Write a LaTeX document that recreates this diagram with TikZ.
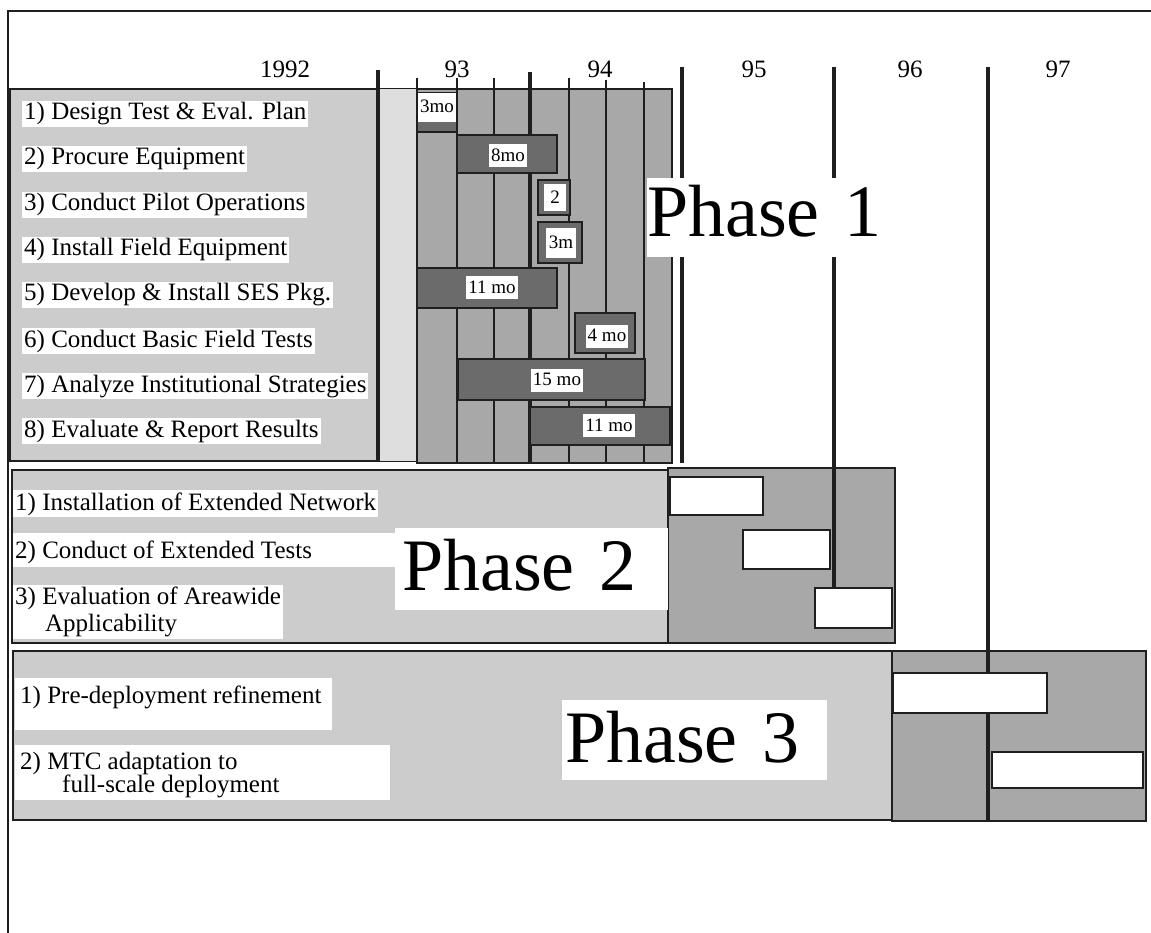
\documentclass[tikz,border=0pt]{standalone}
\usepackage{fontspec}
\setmainfont{Liberation Serif}
\usepackage{tikz}
\definecolor{paneltone}{gray}{0.80}
\definecolor{striptone}{gray}{0.87}
\definecolor{charttone}{gray}{0.66}
\definecolor{bartone}{gray}{0.42}
\definecolor{linetone}{gray}{0.12}
\tikzset{
    frame/.style={draw=linetone,line width=2pt},
    panel/.style={draw=linetone,line width=1.6pt,fill=paneltone},
    chart/.style={draw=linetone,line width=2pt,fill=charttone},
    yearline/.style={draw=linetone,line width=4pt},
    quarterline/.style={draw=linetone,line width=2.6pt},
    bar/.style={draw=linetone,line width=1.6pt,fill=bartone},
    slot/.style={draw=linetone,line width=2.4pt,fill=white},
    item/.style={fill=white,anchor=base west,inner sep=2pt,font=\fontsize{25}{27}\selectfont},
    year/.style={anchor=base,inner sep=0pt,font=\fontsize{25}{27}\selectfont},
    barlabel/.style={fill=white,inner xsep=2pt,inner ysep=4pt,text height=13pt,text depth=2pt,font=\fontsize{19}{21}\selectfont},
    phase/.style={fill=white,anchor=base west,align=left,inner ysep=0pt,font=\fontsize{74}{80}\selectfont}
}
\begin{document}
\begin{tikzpicture}[x=1pt,y=-1pt]
    \useasboundingbox (0,0) rectangle (1151,933);
    \draw[frame] (8,933) -- (8,11) -- (1151,11);
    \draw[panel] (10,89) rectangle (672,461);
    \fill[striptone] (378,89) rectangle (417,461);
    \draw[chart] (417,89) rectangle (672,463);
    \draw[panel] (12,470) rectangle (668,643);
    \draw[chart] (668,468) rectangle (895,643);
    \draw[panel] (13,651) rectangle (892,820);
    \draw[chart] (892,651) rectangle (1146,821);
    \draw[yearline] (378,70) -- (378,461);
    \draw[yearline] (530,72) -- (530,463);
    \draw[yearline] (682,67) -- (682,463);
    \draw[yearline] (834,67) -- (834,588);
    \draw[yearline] (988,67) -- (988,820);
    \draw[quarterline] (417,78) -- (417,463);
    \draw[quarterline] (457,78) -- (457,463);
    \draw[quarterline] (494,78) -- (494,463);
    \draw[quarterline] (569,78) -- (569,463);
    \draw[quarterline] (606,80) -- (606,463);
    \draw[quarterline] (644,82) -- (644,463);
    \node[year] (y92) at (285,78) {1992};
    \node[year] (y93) at (457,78) {93};
    \node[year] (y94) at (600,78) {94};
    \node[year] (y95) at (754,78) {95};
    \node[year] (y96) at (910,78) {96};
    \node[year] (y97) at (1058,78) {97};
    \draw[bar] (417,93) rectangle (457,132);
    \draw[bar] (457,135) rectangle (557,173);
    \draw[bar] (538,180) rectangle (570,215);
    \draw[bar] (538,222) rectangle (582,263);
    \draw[bar] (417,268) rectangle (557,308);
    \draw[bar] (575,313) rectangle (635,353);
    \draw[bar] (458,359) rectangle (645,400);
    \draw[bar] (530,407) rectangle (670,445);
    \node[barlabel,minimum width=38pt,minimum height=29pt] (m1) at (437,107.5) {3mo};
    \node[barlabel] (m2) at (508,156) {8mo};
    \node[barlabel,minimum width=22pt,minimum height=27pt] (m3) at (555,198) {2};
    \node[barlabel,minimum width=30pt,minimum height=30pt] (m4) at (561,243) {3m};
    \node[barlabel] (m5) at (492,288) {11 mo};
    \node[barlabel] (m6) at (607,336) {4 mo};
    \node[barlabel] (m7) at (557,380) {15 mo};
    \node[barlabel] (m8) at (609,425.5) {11 mo};
    \draw[slot] (670,477) rectangle (763,515);
    \draw[slot] (743,530) rectangle (830,569);
    \draw[slot] (815,588) rectangle (892,628);
    \draw[slot] (893,673) rectangle (1047,713);
    \draw[slot] (992,752) rectangle (1143,788);
    \node[item] (d1) at (22,120) {1) Design Test \& Eval. Plan};
    \node[item] (d2) at (22,165) {2) Procure Equipment};
    \node[item] (d3) at (22,211) {3) Conduct Pilot Operations};
    \node[item] (d4) at (22,256) {4) Install Field Equipment};
    \node[item] (d5) at (22,301) {5) Develop \& Install SES Pkg.};
    \node[item] (d6) at (22,347) {6) Conduct Basic Field Tests};
    \node[item] (d7) at (22,392) {7) Analyze Institutional Strategies};
    \node[item] (d8) at (22,437) {8) Evaluate \& Report Results};
    \fill[white] (13,533) rectangle (397,567);
    \node[item] (e1) at (13,510) {1) Installation of Extended Network};
    \node[item] (e2) at (13,558) {2) Conduct of Extended Tests};
    \node[item,anchor=north west,align=left] (e3) at (13,585) {3) Evaluation of Areawide\\\hspace*{30pt}Applicability};
    \fill[white] (15,678) rectangle (332,730);
    \node[item] (f1) at (18,703) {1) Pre-deployment refinement};
    \fill[white] (15,745) rectangle (390,800);
    \node[item,anchor=north west,align=left] (f2) at (18,750) {2) MTC adaptation to\\[-4pt]\hspace*{42pt}full-scale deployment};
    \node[phase,inner xsep=0pt,text width=236pt,text height=59pt,text depth=20pt] (ph1) at (647,237) {Phase 1};
    \node[phase,inner xsep=7pt,text width=259pt,text height=62pt,text depth=20pt] (ph2) at (395,590) {Phase 2};
    \node[phase,inner xsep=3pt,text width=259pt,text height=62pt,text depth=18pt] (ph3) at (562,762) {Phase 3};
\end{tikzpicture}
\end{document}
